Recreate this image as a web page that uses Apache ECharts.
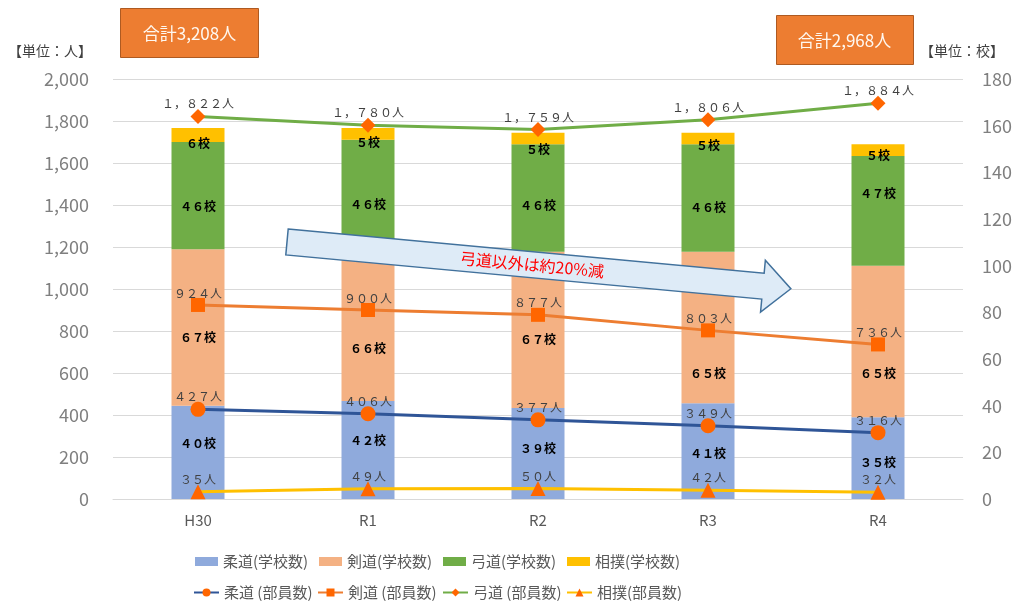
<!DOCTYPE html>
<html>
<head>
<meta charset="utf-8">
<script src="https://cdn.jsdelivr.net/npm/echarts@6/dist/echarts.min.js"></script>
<style>
  html, body { margin: 0; padding: 0; background: #fff; }
  #chart { width: 1018px; height: 603px; }
</style>
</head>
<body>
<div id="chart"></div>
<script>
const years = ['H30', 'R1', 'R2', 'R3', 'R4'];

// 学校数 (right axis)
const judoSchools = [40, 42, 39, 41, 35];
const kendoSchools = [67, 66, 67, 65, 65];
const kyudoSchools = [46, 46, 46, 46, 47];
const sumoSchools = [6, 5, 5, 5, 5];

// 部員数 (left axis)
const judoMembers = [427, 406, 377, 349, 316];
const kendoMembers = [924, 900, 877, 803, 736];
const kyudoMembers = [1822, 1780, 1759, 1806, 1884];
const sumoMembers = [35, 49, 50, 42, 32];

const leftTicks = { min: 0, max: 2000, interval: 200 };
const rightTicks = { min: 0, max: 180, interval: 20 };

const FONT = '"Noto Sans CJK JP", "Noto Sans", sans-serif';
const MARK = '#FF6600';

// 全角に変換（１，８２２人 のような表記）
function zen(s) {
    return String(s).replace(/[0-9,]/g, c => c === ',' ? '，' : String.fromCharCode(c.charCodeAt(0) + 0xFEE0));
}

// bar label vertical shift (px), like Excel placed them
function barSeries(name, data, color, shift) {
    return {
        name, type: 'bar', stack: 'school', yAxisIndex: 1,
        data: data.map((v, i) => ({ value: v, label: { offset: [0, shift[i]] } })),
        barWidth: 53,
        itemStyle: { color },
        label: {
            show: true, position: 'inside',
            formatter: p => zen(p.value) + '校',
            color: '#000', fontSize: 12, fontWeight: 'bold', fontFamily: FONT
        },
        z: 2
    };
}

function lineSeries(name, data, color, symbol, size) {
    return {
        name, type: 'line', yAxisIndex: 0, data,
        symbol, symbolSize: size,
        lineStyle: { color, width: 3 },
        itemStyle: { color: MARK },
        label: {
            show: true, position: 'top', distance: -1,
            formatter: p => zen(p.value.toLocaleString('en-US')) + '人',
            color: '#404040', fontSize: 12, fontFamily: FONT
        },
        z: 5
    };
}

function legendItem(name, left, top, isBar) {
    return {
        data: [name], left, top, padding: 0,
        itemWidth: isBar ? 23 : 25, itemHeight: isBar ? 9 : 10,
        icon: isBar ? 'rect' : undefined,
        textStyle: { fontSize: 15, color: '#595959', fontFamily: FONT }
    };
}

const chart = echarts.init(document.getElementById('chart'));

const option = {
    animation: false,
    textStyle: { fontFamily: FONT },
    grid: { left: 113, right: 55, top: 79, bottom: 104 },
    legend: [
        legendItem('柔道(学校数)', 195, 554, true),
        legendItem('剣道(学校数)', 319, 554, true),
        legendItem('弓道(学校数)', 443, 554, true),
        legendItem('相撲(学校数)', 567, 554, true),
        legendItem('柔道 (部員数)', 193, 585, false),
        legendItem('剣道 (部員数)', 317, 585, false),
        legendItem('弓道 (部員数)', 442, 585, false),
        legendItem('相撲(部員数)', 566, 585, false)
    ],
    xAxis: {
        type: 'category', data: years,
        axisLine: { lineStyle: { color: '#D9D9D9' } },
        axisTick: { show: false },
        axisLabel: { color: '#595959', fontSize: 15, margin: 14 }
    },
    yAxis: [
        {
            type: 'value', ...leftTicks,
            axisLine: { show: false }, axisTick: { show: false },
            splitLine: { lineStyle: { color: '#D9D9D9', width: 1 } },
            axisLabel: {
                color: '#7F7F7F', fontSize: 18, margin: 24,
                formatter: v => v.toLocaleString('en-US')
            }
        },
        {
            type: 'value', ...rightTicks,
            axisLine: { show: false }, axisTick: { show: false },
            splitLine: { show: false },
            axisLabel: { color: '#7F7F7F', fontSize: 18, margin: 19 }
        }
    ],
    series: [
        barSeries('柔道(学校数)', judoSchools, '#8FAADC', [-9, -10, -5, 2, 4]),
        barSeries('剣道(学校数)', kendoSchools, '#F4B183', [10, 24, 10, 46, 32]),
        barSeries('弓道(学校数)', kyudoSchools, '#70AD47', [11, 11, 7, 9, -17]),
        barSeries('相撲(学校数)', sumoSchools, '#FFC000', [8, 9, 11, 7, 5]),
        lineSeries('柔道 (部員数)', judoMembers, '#2F5597', 'circle', 15),
        lineSeries('剣道 (部員数)', kendoMembers, '#ED7D31', 'rect', 14),
        lineSeries('弓道 (部員数)', kyudoMembers, '#70AD47', 'diamond', 15),
        lineSeries('相撲(部員数)', sumoMembers, '#FFC000', 'triangle', 15)
    ],
    graphic: [
        {
            type: 'group', left: 120, top: 8,
            children: [
                { type: 'rect', shape: { x: 0, y: 0, width: 138, height: 49 },
                  style: { fill: '#ED7D31', stroke: '#AE5A21', lineWidth: 1 } },
                { type: 'text', x: 69, y: 25,
                  style: { text: '合計3,208人', fill: '#FFF8F0', fontSize: 17, fontFamily: FONT,
                           align: 'center', verticalAlign: 'middle' } }
            ]
        },
        {
            type: 'group', left: 776, top: 15,
            children: [
                { type: 'rect', shape: { x: 0, y: 0, width: 137, height: 49 },
                  style: { fill: '#ED7D31', stroke: '#AE5A21', lineWidth: 1 } },
                { type: 'text', x: 68, y: 25,
                  style: { text: '合計2,968人', fill: '#FFF8F0', fontSize: 17, fontFamily: FONT,
                           align: 'center', verticalAlign: 'middle' } }
            ]
        },
        {
            type: 'text', left: 8, top: 44,
            style: { text: '【単位：人】', fill: '#404040', fontSize: 14, fontFamily: FONT }
        },
        {
            type: 'text', left: 920, top: 44,
            style: { text: '【単位：校】', fill: '#404040', fontSize: 14, fontFamily: FONT }
        },
        {
            type: 'group', x: 287, y: 242, rotation: -0.0925, z: 100,
            children: [
                {
                    type: 'polygon', z: 100,
                    shape: { points: [[0, -13], [478, -13], [478, -26], [506, 0], [478, 26], [478, 13], [0, 13]] },
                    style: { fill: '#DEEBF7', stroke: '#41719C', lineWidth: 1.5 }
                },
                {
                    type: 'text', x: 246, y: 0, z: 101,
                    style: { text: '弓道以外は約20%減', fill: '#FF0000', fontSize: 16, fontFamily: FONT,
                             align: 'center', verticalAlign: 'middle' }
                }
            ]
        }
    ]
};

chart.setOption(option);
</script>
</body>
</html>
